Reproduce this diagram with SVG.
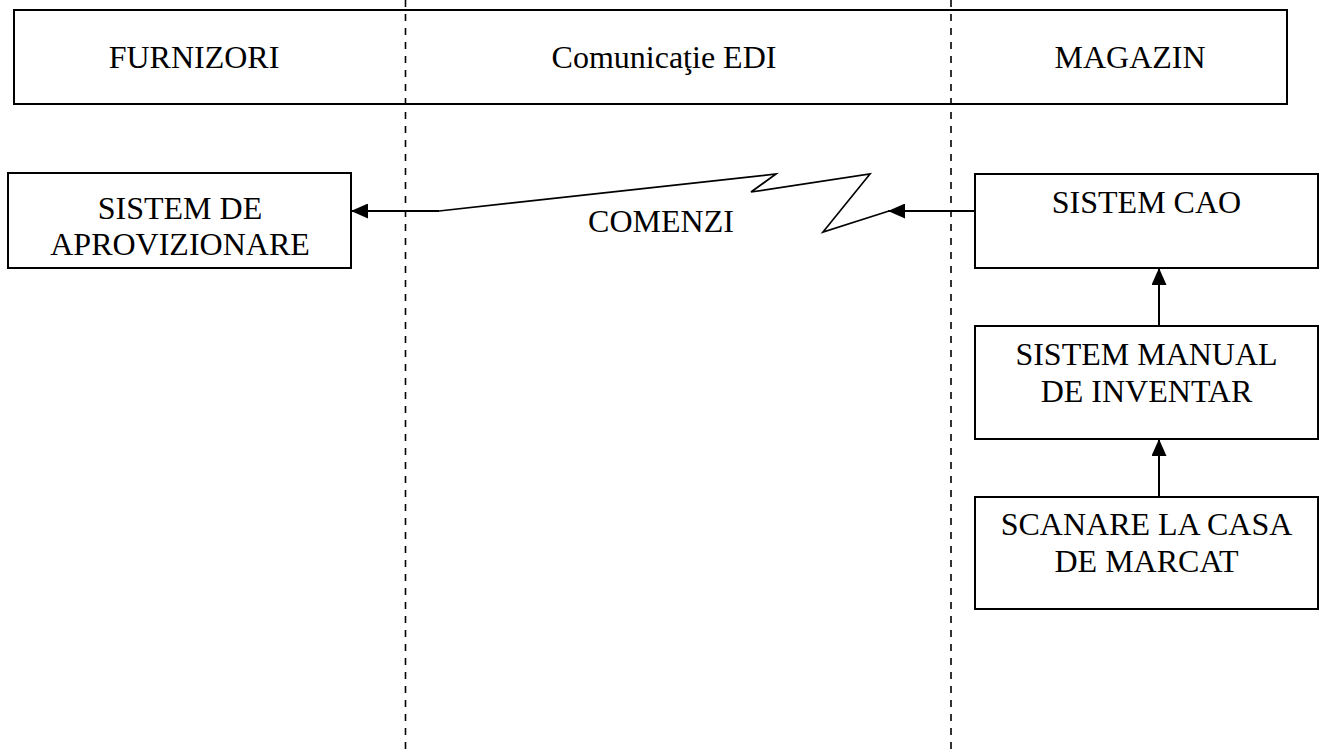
<svg xmlns="http://www.w3.org/2000/svg" width="1324" height="756" viewBox="0 0 1324 756">
  <style>
    .box { fill: #fff; stroke: #000; stroke-width: 2; }
    .lbl { font-family: "Liberation Serif", "Times New Roman", serif; font-size: 32px; fill: #000; text-anchor: middle; }
    .lane { stroke: #000; stroke-width: 1.6; stroke-dasharray: 7 7; fill: none; }
    .link { stroke: #000; stroke-width: 2; fill: none; }
    .bolt { stroke: #000; stroke-width: 1.7; fill: none; stroke-linejoin: miter; }
  </style>
  <defs>
    <marker id="head" viewBox="0 0 17 15" refX="17" refY="7.5" markerWidth="17" markerHeight="15" markerUnits="userSpaceOnUse" orient="auto">
      <path d="M0,0 L17,7.5 L0,15 Z" fill="#000"/>
    </marker>
  </defs>
  <rect width="1324" height="756" fill="#fff"/>

  <!-- header band -->
  <g id="header">
    <rect class="box" x="14" y="10" width="1273" height="94"/>
    <text class="lbl" x="194" y="68">FURNIZORI</text>
    <text class="lbl" x="664" y="68">Comunicaţie EDI</text>
    <text class="lbl" x="1130" y="68">MAGAZIN</text>
  </g>

  <!-- lane separators -->
  <g id="lanes">
    <line class="lane" x1="405.5" y1="0" x2="405.5" y2="756"/>
    <line class="lane" x1="951" y1="0" x2="951" y2="756"/>
  </g>

  <g id="aprovizionare">
    <rect class="box" x="8" y="173" width="343" height="95"/>
    <text class="lbl" x="180" y="219">SISTEM DE</text>
    <text class="lbl" x="180" y="255">APROVIZIONARE</text>
  </g>

  <g id="cao">
    <rect class="box" x="975" y="174" width="343" height="94"/>
    <text class="lbl" x="1146.5" y="213">SISTEM CAO</text>
  </g>

  <g id="inventar">
    <rect class="box" x="975" y="326" width="343" height="113"/>
    <text class="lbl" x="1146.5" y="365">SISTEM MANUAL</text>
    <text class="lbl" x="1146.5" y="402">DE INVENTAR</text>
  </g>

  <g id="scanare">
    <rect class="box" x="975" y="497" width="343" height="112"/>
    <text class="lbl" x="1146.5" y="535">SCANARE LA CASA</text>
    <text class="lbl" x="1146.5" y="572">DE MARCAT</text>
  </g>

  <!-- connectors -->
  <g id="connectors">
    <line class="link" x1="975" y1="211" x2="888" y2="211" marker-end="url(#head)"/>
    <polyline class="bolt" points="889,211 823,232 870,174 751,192 776,174 439,211"/>
    <line class="link" x1="439" y1="211" x2="351" y2="211" marker-end="url(#head)"/>
    <line class="link" x1="1159" y1="326" x2="1159" y2="268" marker-end="url(#head)"/>
    <line class="link" x1="1159" y1="497" x2="1159" y2="439" marker-end="url(#head)"/>
    <text class="lbl" x="661" y="232">COMENZI</text>
  </g>
</svg>
